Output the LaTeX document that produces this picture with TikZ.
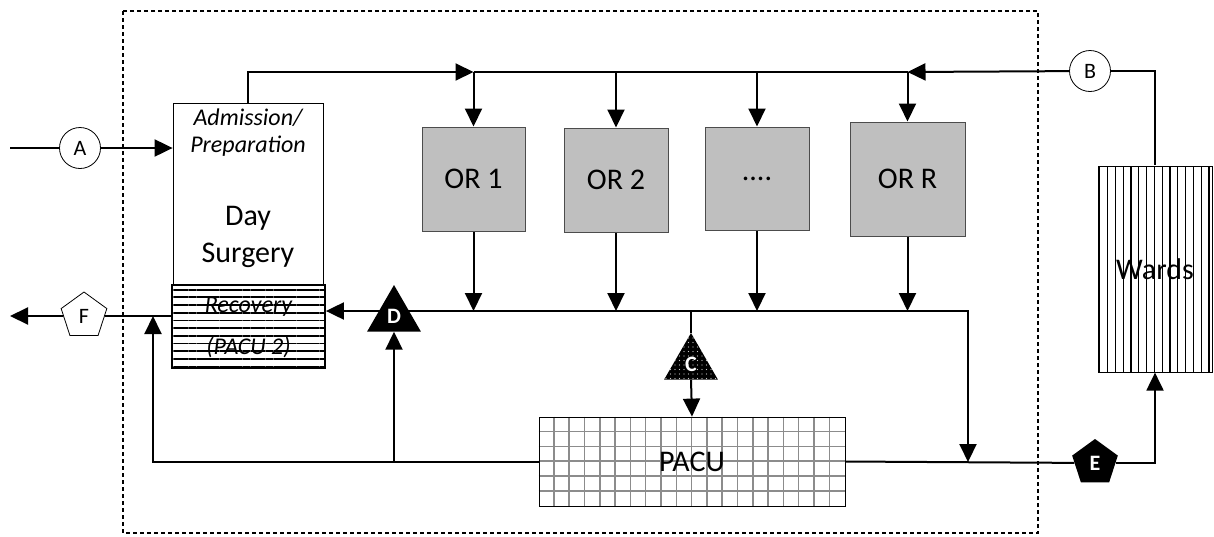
\documentclass[tikz,border=0pt]{standalone}
\usepackage{fontspec}
\setmainfont{Carlito}
\usetikzlibrary{arrows.meta,shapes.geometric,patterns,patterns.meta,backgrounds,calc}

\begin{document}
\begin{tikzpicture}[x=1pt,y=-1pt,
  conn/.style={line width=2pt},
  arr/.style={line width=2pt,-{Triangle[length=18pt,width=17pt]}},
  orbox/.style={draw=black!70,line width=1pt,fill=black!25,inner sep=0pt,font=\fontsize{30}{32}\selectfont},
  letter/.style={circle,draw,line width=0.8pt,fill=white,minimum size=41pt,inner sep=0pt,font=\fontsize{22}{24}\selectfont},
  pent/.style={regular polygon,regular polygon sides=5,minimum size=48pt,inner sep=0pt},
  tri/.style={regular polygon,regular polygon sides=3,minimum size=62pt,inner sep=0pt},
  marktext/.style={text=white,font=\bfseries\fontsize{22}{24}\selectfont},
  itext/.style={font=\itshape\fontsize{24}{26}\selectfont,inner sep=0pt},
  mtext/.style={font=\fontsize{30}{32}\selectfont,inner sep=0pt},
  gridline/.style={draw=black!45,line width=1.5pt},
  frame/.style={line width=2.2pt,dash pattern=on 4pt off 3pt}
]
\useasboundingbox (0,0) rectangle (1214,536);

% boxes
\node[orbox,minimum width=103pt,minimum height=104pt] (OR1) at (473.5,179) {OR 1};
\node[orbox,minimum width=104pt,minimum height=104pt] (OR2) at (616,180) {OR 2};
\node[orbox,minimum width=104pt,minimum height=103pt] (ORd) at (757,178.5) {....};
\node[orbox,minimum width=115pt,minimum height=114pt] (ORR) at (907.5,179) {OR R};

\node[draw,line width=0.8pt,minimum width=150pt,minimum height=182pt,inner sep=0pt] (DS) at (248,194) {};
\node[itext] (adm) at (248,118) {Admission/};
\node[itext] (prep) at (248,146) {Preparation};
\node[mtext] (day) at (248,218) {Day};
\node[mtext] (surg) at (248,255) {Surgery};

\node[draw,line width=1.6pt,minimum width=153pt,minimum height=83pt,inner sep=0pt,
      pattern={Lines[distance=7.7pt,line width=1.8pt]}] (Recov) at (248.5,326.5) {};
\node[itext] (rec1) at (248.5,307) {Recovery};
\node[itext] (rec2) at (248.5,347) {(PACU 2)};

\node[draw,line width=0.8pt,minimum width=114pt,minimum height=206pt,inner sep=0pt,
      pattern={Lines[angle=90,distance=7.8pt,line width=1.2pt]},mtext] (Wards) at (1155,269) {Wards};

\node[draw,line width=0.8pt,minimum width=306pt,minimum height=89pt,inner sep=0pt,mtext] (PACU) at (692,461.5) {PACU};

% markers
\node[letter] (A) at (80,148) {A};
\node[letter] (B) at (1090,71) {B};
\node[pent,draw,line width=0.8pt,fill=white,font=\fontsize{22}{24}\selectfont] (F) at (84,316) {F};
\node[pent,fill=black,marktext] (E) at (1095,463) {E};
\node[tri,fill=black,marktext] (D) at (394,316) {D};
\node[tri,fill=black,postaction={pattern={Dots[distance=4.5pt,radius=0.7pt]},pattern color=white!80!black},marktext] (C) at (691,364) {C};

% coordinates
\coordinate (Ain) at (10,148);
\coordinate (Fout) at (10,316);
\coordinate (topJ1) at (473.5,72);
\coordinate (topJR) at (907.5,72);
\coordinate (busL) at (394,311);
\coordinate (busR) at (968,311);
\coordinate (botR) at (968,462);
\coordinate (Fj) at (153,316);

\begin{scope}[on background layer]
% PACU grid
\begin{scope}
\clip (PACU.north west) rectangle (PACU.south east);
\foreach \i in {1,...,19} \draw[gridline] ($(PACU.north west)+(\i*15.3,0)$) -- ++(0,89);
\foreach \j in {1,...,5} \draw[gridline] ($(PACU.north west)+(0,\j*14.83)$) -- ++(306,0);
\end{scope}
\draw[frame] (123,11) rectangle (1038,533);
\draw[conn] (Ain) -- (A);
\draw[arr] (A) -- (A -| DS.west);
\draw[arr] (DS.north) |- (topJ1);
\draw[line width=2.4pt] (topJ1) -- (topJR);
\draw[arr] (B) -- (topJR);
\draw[conn] (B) -| (Wards.north);
\foreach \n in {OR1,OR2,ORd,ORR}{
  \draw[arr] (\n.north |- topJ1) -- (\n.north);
  \draw[arr] (\n.south) -- (\n.south |- busR);
}
\draw[arr] (busL) -| (botR);
\draw[arr] (busL) -- (busL -| Recov.east);
\draw[conn] (C.north |- busR) -- (C.north);
\draw[arr] (C.south) -- (PACU.north);
\draw[arr] (PACU.west) -| (Fj);
\draw[arr] (D.south |- PACU.west) -- (D.south);
\draw[conn] (PACU.east) -- (E);
\draw[arr] (E) -| (Wards.south);
\draw[conn] (F -| Recov.west) -- (F);
\draw[arr] (F) -- (Fout);
\end{scope}
\end{tikzpicture}
\end{document}
